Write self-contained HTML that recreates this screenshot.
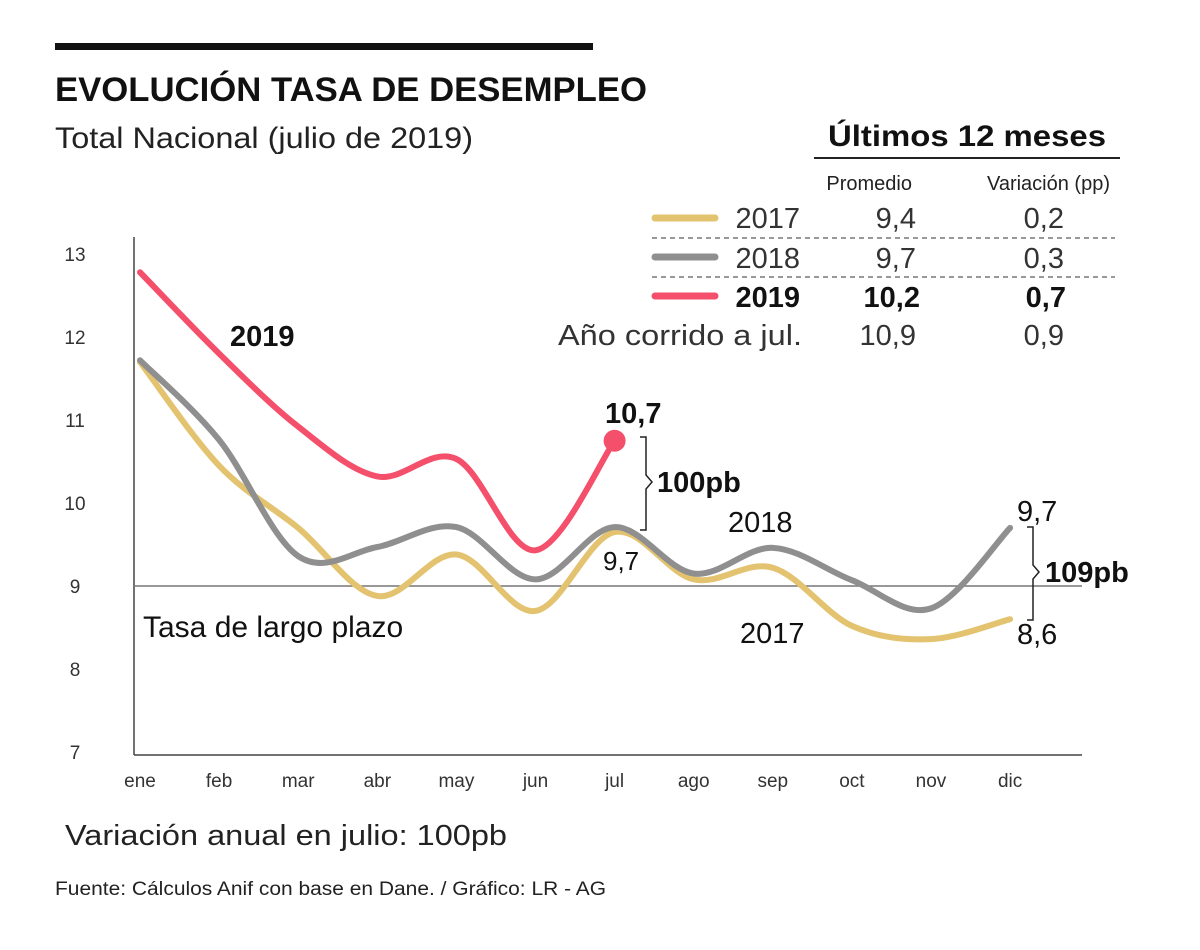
<!DOCTYPE html>
<html><head><meta charset="utf-8"><style>
body{margin:0;background:#fff;}
svg text{font-family:"Liberation Sans",sans-serif;}
</style></head><body>
<svg width="1200" height="945" viewBox="0 0 1200 945" xmlns="http://www.w3.org/2000/svg">
<rect x="55" y="43" width="538" height="7" fill="#111"/>
<text x="55" y="101" font-size="34" font-weight="bold" fill="#111" textLength="592" lengthAdjust="spacingAndGlyphs">EVOLUCIÓN TASA DE DESEMPLEO</text>
<text x="55" y="148" font-size="30" fill="#222" textLength="418" lengthAdjust="spacingAndGlyphs">Total Nacional (julio de 2019)</text>
<g>
<text x="828" y="146" font-size="30" font-weight="bold" fill="#111" textLength="278" lengthAdjust="spacingAndGlyphs">Últimos 12 meses</text>
<line x1="814" y1="158" x2="1120" y2="158" stroke="#222" stroke-width="2"/>
<text x="912" y="190" font-size="20" text-anchor="end" fill="#222">Promedio</text>
<text x="1110" y="190" font-size="20" text-anchor="end" fill="#222">Variación (pp)</text>
<line x1="655" y1="218" x2="715" y2="218" stroke="#e3c36f" stroke-width="7" stroke-linecap="round"/>
<text x="800" y="228" font-size="29" text-anchor="end" fill="#333">2017</text>
<text x="916" y="228" font-size="29" text-anchor="end" fill="#333">9,4</text>
<text x="1064" y="228" font-size="29" text-anchor="end" fill="#333">0,2</text>
<line x1="652" y1="238" x2="1115" y2="238" stroke="#333" stroke-dasharray="5,4"/>
<line x1="655" y1="257" x2="715" y2="257" stroke="#8f8f8f" stroke-width="7" stroke-linecap="round"/>
<text x="800" y="268" font-size="29" text-anchor="end" fill="#333">2018</text>
<text x="916" y="268" font-size="29" text-anchor="end" fill="#333">9,7</text>
<text x="1064" y="268" font-size="29" text-anchor="end" fill="#333">0,3</text>
<line x1="652" y1="277" x2="1115" y2="277" stroke="#333" stroke-dasharray="5,4"/>
<line x1="655" y1="296" x2="715" y2="296" stroke="#f4506b" stroke-width="7" stroke-linecap="round"/>
<text x="800" y="307" font-size="29" font-weight="bold" text-anchor="end" fill="#111">2019</text>
<text x="920" y="307" font-size="29" font-weight="bold" text-anchor="end" fill="#111">10,2</text>
<text x="1066" y="307" font-size="29" font-weight="bold" text-anchor="end" fill="#111">0,7</text>
<text x="558" y="345" font-size="29" fill="#333" textLength="244" lengthAdjust="spacingAndGlyphs">Año corrido a jul.</text>
<text x="916" y="345" font-size="29" text-anchor="end" fill="#333">10,9</text>
<text x="1064" y="345" font-size="29" text-anchor="end" fill="#333">0,9</text>
</g>
<g id="plot"></g>
<text x="65" y="845" font-size="29" fill="#222" textLength="442" lengthAdjust="spacingAndGlyphs">Variación anual en julio: 100pb</text>
<text x="55" y="895" font-size="19" fill="#222" textLength="551" lengthAdjust="spacingAndGlyphs">Fuente: Cálculos Anif con base en Dane. / Gráfico: LR - AG</text>
</svg>
<script>
const months=["ene","feb","mar","abr","may","jun","jul","ago","sep","oct","nov","dic"];
const yTicks=[7,8,9,10,11,12,13];
const s2017=[11.7,10.45,9.7,8.88,9.38,8.7,9.65,9.08,9.22,8.52,8.36,8.6];
const s2018=[11.72,10.76,9.36,9.47,9.71,9.08,9.71,9.15,9.46,9.07,8.73,9.7];
const s2019=[12.78,11.8,10.92,10.32,10.53,9.43,10.75];
const NS="http://www.w3.org/2000/svg";
const g=document.getElementById('plot');
const X=i=>140+i*79.1;
const Y=v=>752-(v-7)*83;
function el(t,a,p){const e=document.createElementNS(NS,t);for(const k in a)e.setAttribute(k,a[k]);(p||g).appendChild(e);return e;}
let e;
e=el('line',{x1:134,y1:237,x2:134,y2:755,stroke:'#444','stroke-width':1.5});


e=el('line',{x1:134,y1:755,x2:1082,y2:755,stroke:'#444','stroke-width':1.5});


e=el('line',{x1:134,y1:Y(9),x2:1082,y2:Y(9),stroke:'#777','stroke-width':1.5});


yTicks.forEach(v=>{e=el('text',{x:75,y:Y(v)+7,'font-size':19,fill:'#333','text-anchor':'middle'});e.textContent=v;

});
months.forEach((m,i)=>{e=el('text',{x:X(i),y:787,'font-size':19,fill:'#333','text-anchor':'middle'});e.textContent=m;

});
function path(vals){const p=vals.map((v,i)=>[X(i),Y(v)]);let d=`M${p[0][0]},${p[0][1]}`;
for(let i=0;i<p.length-1;i++){const p0=p[i-1]||p[i],p1=p[i],p2=p[i+1],p3=p[i+2]||p2;
d+=`C${p1[0]+(p2[0]-p0[0])/6},${p1[1]+(p2[1]-p0[1])/6} ${p2[0]-(p3[0]-p1[0])/6},${p2[1]-(p3[1]-p1[1])/6} ${p2[0]},${p2[1]}`;}return d;}
[[s2017,'#e3c36f','line-2017'],[s2018,'#8f8f8f','line-2018'],[s2019,'#f4506b','line-2019']].forEach(([s,c,n])=>{
e=el('path',{d:path(s),fill:'none',stroke:c,'stroke-width':6,'stroke-linecap':'round'});

});
e=el('circle',{cx:X(6),cy:Y(s2019[6]),r:11,fill:'#f4506b'});


function txt(x,y,s,t,w,a,n){const e=el('text',{x:x,y:y,'font-size':s,fill:'#111','font-weight':w||'normal','text-anchor':a||'start'});e.textContent=t;

}
txt(230,346,29,'2019','bold','start','label-2019');
txt(605,423,29,'10,7','bold','start','label-jul-2019');
txt(657,492,29,'100pb','bold','start','label-100pb');
txt(603,570,26,'9,7','normal','start','label-jul-2018');
txt(728,532,29,'2018','normal','start','label-2018');
txt(740,643,29,'2017','normal','start','label-2017');
txt(1017,521,29,'9,7','normal','start','label-dic-2018');
txt(1017,644,29,'8,6','normal','start','label-dic-2017');
txt(1045,582,29,'109pb','bold','start','label-109pb');
txt(143,637,30,'Tasa de largo plazo','normal','start','label-long-term');
e=el('path',{d:'M640,437 L646,437 L646,475 L652,482 L646,489 L646,530 L640,530',fill:'none',stroke:'#222','stroke-width':1.5});


e=el('path',{d:'M1027,527 L1033,527 L1033,565 L1039,572 L1033,579 L1033,620 L1027,620',fill:'none',stroke:'#222','stroke-width':1.5});


</script>
</body></html>
